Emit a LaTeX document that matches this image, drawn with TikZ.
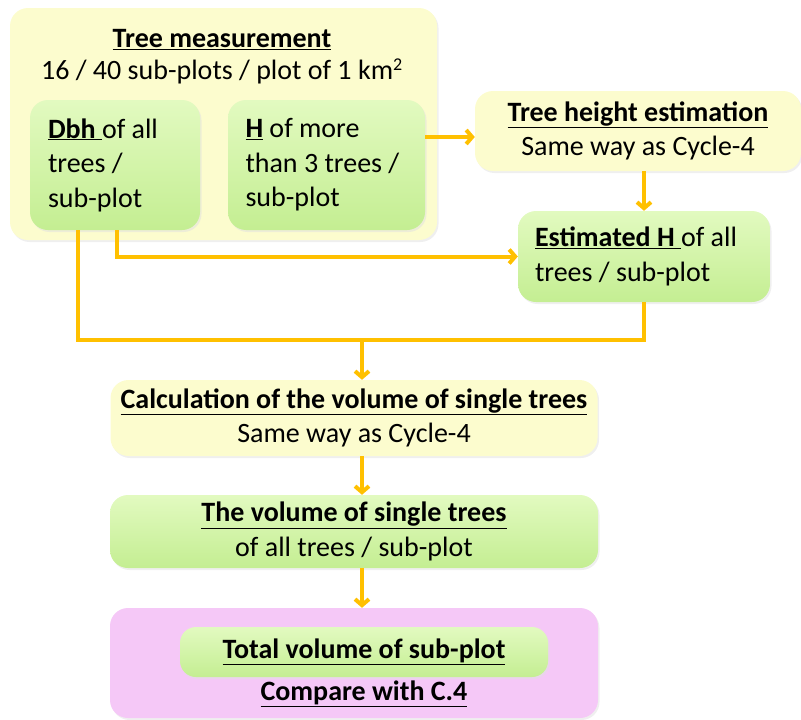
\documentclass[tikz,border=0pt]{standalone}
\usepackage{fontspec}
\setmainfont{Carlito}
\usetikzlibrary{arrows.meta,shadows,calc}
\definecolor{ylw}{RGB}{252,252,206}
\definecolor{grnT}{RGB}{226,250,192}
\definecolor{grnB}{RGB}{196,238,146}
\definecolor{pnk}{RGB}{245,200,247}
\definecolor{org}{RGB}{255,192,0}
\begin{document}
\begin{tikzpicture}[x=1pt,y=-1pt,
  box/.style={rounded corners=18pt, inner sep=0pt, draw=none,
    drop shadow={shadow xshift=1.5pt, shadow yshift=-2pt, fill=black!12}},
  ybox/.style={box, fill=ylw},
  gbox/.style={box, top color=grnT, bottom color=grnB},
  pbox/.style={box, fill=pnk},
  txt/.style={font=\fontsize{28}{34.5}\selectfont, inner sep=0pt},
  conn/.style={draw=org, line width=4pt},
  arr/.style={conn, -{Straight Barb[length=6pt,width=14pt]}}
]
\useasboundingbox (0,0) rectangle (801,720);

% Tree measurement
\node[ybox, minimum width=427pt, minimum height=232pt] (tm) at (223.5,124) {};
\node[txt, font=\fontsize{28}{32}\selectfont, align=center] (tmt) at (222,57)
  {\textbf{\underline{Tree measurement}}\\16 / 40 sub-plots / plot of 1 km\textsuperscript{\fontsize{18}{18}\selectfont 2}};
\node[gbox, minimum width=170pt, minimum height=130pt, txt, text width=134pt, align=flush left] (dbh) at (115,165)
  {\textbf{\underline{Dbh\ }}of all\\trees /\\sub-plot};
\node[gbox, minimum width=197pt, minimum height=130pt, txt, text width=162pt, align=flush left] (hb) at (326.5,165)
  {\textbf{\underline{H}} of more\\than 3 trees /\\sub-plot};

% Tree height estimation
\node[ybox, minimum width=326pt, minimum height=80pt, txt, align=center] (the) at (638,131)
  {\textbf{\underline{Tree height estimation}}\\Same way as Cycle-4};

% Estimated H
\node[gbox, minimum width=252pt, minimum height=91pt, txt, text width=218pt, align=flush left] (est) at (644,256.5)
  {\textbf{\underline{Estimated H\ }}of all\\trees / sub-plot};

% Calculation
\node[ybox, minimum width=487pt, minimum height=76pt, txt, align=center] (calc) at (354,418)
  {\textbf{\underline{Calculation of the volume of single trees}}\\Same way as Cycle-4};

% Volume
\node[gbox, minimum width=488pt, minimum height=73pt, txt, align=center] (vol) at (354,531.5)
  {\textbf{\underline{The volume of single trees}}\\of all trees / sub-plot};

% Total
\node[pbox, minimum width=488pt, minimum height=110pt] (tot) at (354,663) {};
\node[gbox, rounded corners=16pt, minimum width=368pt, minimum height=50pt, txt] (tin) at (364,652)
  {\textbf{\underline{Total volume of sub-plot}}};
\node[txt] (cmp) at (364,694) {\textbf{\underline{Compare with C.4}}};

% connectors
\coordinate (a1) at ($(hb.east)+(0,-28)$);
\draw[arr] (a1) -- (a1 -| the.west);
\draw[arr] (the.south -| est.north) -- (est.north);
\coordinate (d2) at ($(dbh.south)+(2,0)$);
\coordinate (d1) at ($(dbh.south)+(-37,0)$);
\draw[arr] (d2) -- (d2 |- est.west) -- (est.west);
\coordinate (j) at (362,340);
\draw[conn] (d1) -- (d1 |- j) -- (j -| est.south) -- (est.south);
\draw[arr] (j) -- (j |- calc.north);
\draw[arr] (calc.south -| j) -- (vol.north -| j);
\draw[arr] (vol.south -| j) -- (tot.north -| j);
\end{tikzpicture}
\end{document}
